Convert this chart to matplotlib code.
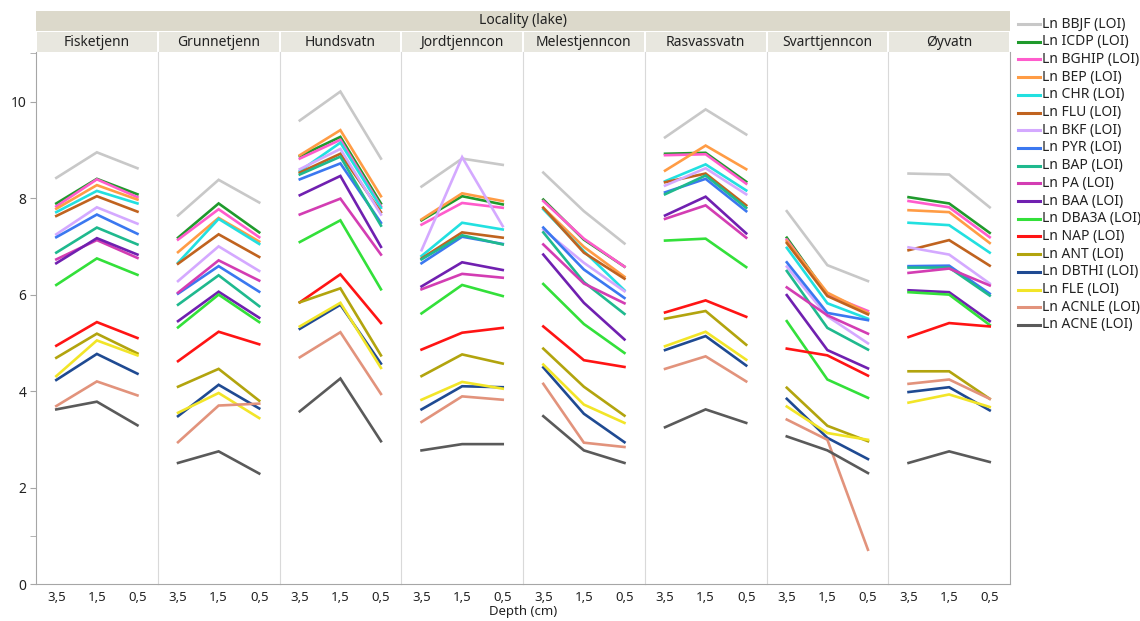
import matplotlib
matplotlib.use("Agg")
import matplotlib.pyplot as plt
from matplotlib.lines import Line2D
from matplotlib.patches import Rectangle

plt.rcParams['font.family'] = ['Noto Sans', 'DejaVu Sans']

lakes = ["Fisketjenn", "Grunnetjenn", "Hundsvatn", "Jordtjenncon",
         "Melestjenncon", "Rasvassvatn", "Svarttjenncon", "Øyvatn"]
depths = ["3,5", "1,5", "0,5"]

compounds = ["BBJF", "ICDP", "BGHIP", "BEP", "CHR", "FLU", "BKF", "PYR", "BAP",
             "PA", "BAA", "DBA3A", "NAP", "ANT", "DBTHI", "FLE", "ACNLE", "ACNE"]
colors = ["#c8c8c8", "#1f9a2c", "#ff5ccc", "#ff9c45", "#22e0e0", "#c0631f",
          "#d4a9ff", "#3b78f0", "#1fb98e", "#d33db3", "#7020b0", "#33e03a",
          "#ff1414", "#b2a40e", "#1f4a92", "#f2e528", "#e2937c", "#5a5a5a"]

# ln(LOI-normalised concentration), one row per compound, columns = depth 3.5, 1.5, 0.5 cm
fisketjenn = [
    [8.42, 8.95, 8.62], [7.89, 8.40, 8.08], [7.83, 8.39, 8.02], [7.78, 8.27, 7.97],
    [7.71, 8.15, 7.89], [7.63, 8.04, 7.72], [7.25, 7.81, 7.47], [7.19, 7.66, 7.26],
    [6.87, 7.39, 7.04], [6.73, 7.13, 6.76], [6.65, 7.17, 6.83], [6.20, 6.75, 6.41],
    [4.94, 5.43, 5.10], [4.69, 5.19, 4.78], [4.23, 4.77, 4.36], [4.31, 5.05, 4.74],
    [3.69, 4.20, 3.91], [3.62, 3.78, 3.29]]
grunnetjenn = [
    [7.64, 8.38, 7.91], [7.18, 7.89, 7.29], [7.14, 7.77, 7.19], [6.88, 7.59, 7.10],
    [6.66, 7.57, 7.05], [6.64, 7.25, 6.78], [6.28, 7.00, 6.49], [6.02, 6.59, 6.06],
    [5.79, 6.40, 5.76], [6.04, 6.71, 6.29], [5.45, 6.06, 5.52], [5.32, 6.00, 5.43],
    [4.62, 5.23, 4.97], [4.09, 4.46, 3.80], [3.48, 4.13, 3.64], [3.55, 3.96, 3.44],
    [2.94, 3.70, 3.74], [2.51, 2.75, 2.29]]
hundsvatn = [
    [9.61, 10.21, 8.82], [8.87, 9.27, 7.89], [8.82, 9.21, 7.83], [8.89, 9.41, 8.04],
    [8.56, 9.15, 7.80], [8.53, 8.92, 7.71], [8.60, 9.02, 7.66], [8.39, 8.72, 7.49],
    [8.49, 8.86, 7.43], [7.66, 7.99, 6.83], [8.06, 8.46, 6.99], [7.09, 7.54, 6.11],
    [5.84, 6.42, 5.41], [5.84, 6.13, 4.74], [5.29, 5.79, 4.57], [5.34, 5.83, 4.48],
    [4.70, 5.22, 3.94], [3.58, 4.26, 2.96]]
jordtjenncon = [
    [8.24, 8.82, 8.69], [7.54, 8.04, 7.87], [7.45, 7.90, 7.80], [7.56, 8.10, 7.94],
    [6.80, 7.49, 7.35], [6.75, 7.29, 7.18], [6.92, 8.85, 7.42], [6.65, 7.20, 7.05],
    [6.73, 7.23, 7.04], [6.11, 6.43, 6.35], [6.17, 6.67, 6.51], [5.61, 6.20, 5.97],
    [4.86, 5.21, 5.31], [4.31, 4.76, 4.57], [3.62, 4.10, 4.08], [3.82, 4.19, 4.05],
    [3.36, 3.89, 3.82], [2.77, 2.90, 2.90]]
melestjenncon = [
    [8.53, 7.73, 7.06], [7.97, 7.14, 6.58], [7.94, 7.16, 6.58], [7.80, 6.99, 6.37],
    [7.77, 6.90, 6.09], [7.80, 6.87, 6.33], [7.35, 6.66, 6.07], [7.39, 6.52, 5.93],
    [7.29, 6.26, 5.60], [7.04, 6.23, 5.82], [6.83, 5.83, 5.07], [6.22, 5.39, 4.79],
    [5.34, 4.64, 4.50], [4.88, 4.09, 3.49], [4.49, 3.53, 2.94], [4.55, 3.72, 3.34],
    [4.15, 2.93, 2.84], [3.48, 2.77, 2.51]]
rasvassvatn = [
    [9.26, 9.84, 9.32], [8.92, 8.94, 8.34], [8.89, 8.91, 8.30], [8.57, 9.09, 8.60],
    [8.35, 8.70, 8.16], [8.33, 8.51, 7.85], [8.26, 8.62, 8.08], [8.12, 8.40, 7.73],
    [8.08, 8.47, 7.80], [7.57, 7.85, 7.18], [7.64, 8.03, 7.27], [7.12, 7.16, 6.57],
    [5.63, 5.88, 5.54], [5.50, 5.66, 4.96], [4.85, 5.14, 4.53], [4.93, 5.23, 4.65],
    [4.46, 4.72, 4.20], [3.25, 3.62, 3.34]]
svarttjenncon = [
    [7.73, 6.61, 6.28], [7.18, 6.00, 5.61], [7.14, 6.00, 5.66], [7.11, 6.04, 5.62],
    [6.97, 5.82, 5.50], [7.07, 5.97, 5.59], [6.58, 5.55, 4.99], [6.67, 5.62, 5.47],
    [6.49, 5.31, 4.86], [6.15, 5.57, 5.19], [5.99, 4.85, 4.47], [5.45, 4.24, 3.86],
    [4.88, 4.74, 4.32], [4.07, 3.28, 2.96], [3.84, 3.03, 2.59], [3.68, 3.13, 2.99],
    [3.41, 2.99, 0.71], [3.06, 2.77, 2.30]]
oyvatn = [
    [8.51, 8.49, 7.81], [8.02, 7.89, 7.28], [7.94, 7.81, 7.19], [7.75, 7.71, 7.07],
    [7.49, 7.44, 6.87], [6.92, 7.13, 6.60], [6.98, 6.83, 6.23], [6.59, 6.60, 6.02],
    [6.56, 6.56, 5.98], [6.45, 6.54, 6.19], [6.09, 6.05, 5.45], [6.05, 6.00, 5.37],
    [5.12, 5.41, 5.34], [4.41, 4.41, 3.84], [3.98, 4.08, 3.60], [3.76, 3.93, 3.67],
    [4.15, 4.24, 3.84], [2.51, 2.75, 2.53]]

panels = [fisketjenn, grunnetjenn, hundsvatn, jordtjenncon,
          melestjenncon, rasvassvatn, svarttjenncon, oyvatn]

W, H = 1140, 621
fig = plt.figure(figsize=(W / 100, H / 100), dpi=100)

x0, x1 = 36, 1010
y_top, y_bot = 52, 584
pw = (x1 - x0) / len(lakes)

frame = "#a6a6a6"
divider = "#d9d9d9"

for i, (lake, rows) in enumerate(zip(lakes, panels)):
    ax = fig.add_axes([(x0 + i * pw) / W, 1 - y_bot / H, pw / W, (y_bot - y_top) / H])
    for vals, c in zip(rows, colors):
        ax.plot(range(len(depths)), vals, color=c, lw=1.9, solid_joinstyle='miter')
    ax.set_xlim(-0.5, 2.5)
    ax.set_ylim(0, 11.03)
    ax.set_xticks(range(len(depths)))
    ax.set_xticklabels(depths, fontsize=9.5, color="#222222")
    ax.tick_params(axis='x', length=0, pad=5)
    ax.spines['top'].set_visible(False)
    ax.spines['bottom'].set_color(frame)
    ax.spines['right'].set_visible(i == len(lakes) - 1)
    ax.spines['right'].set_color(frame)
    if i == 0:
        ax.spines['left'].set_color(frame)
        ax.set_yticks([0, 2, 4, 6, 8, 10])
        ax.set_yticks([1, 11], minor=True)
        ax.tick_params(axis='y', which='both', length=4, color=frame,
                       labelsize=10, labelcolor="#222222", pad=3)
    else:
        ax.spines['left'].set_color(divider)
        ax.set_yticks([])

    # panel strip
    fig.patches.append(Rectangle(((x0 + i * pw + 1) / W, 1 - 52 / H), (pw - 2) / W, 20 / H,
                                 transform=fig.transFigure, facecolor="#e8e7df",
                                 edgecolor="none"))
    fig.text((x0 + (i + 0.5) * pw) / W, 1 - 42 / H, lake, ha='center', va='center',
             fontsize=10, color="#222222")

# group header
fig.patches.append(Rectangle((x0 / W, 1 - 31 / H), (x1 - x0) / W, 20 / H,
                             transform=fig.transFigure, facecolor="#dcd9cb",
                             edgecolor="none"))
fig.text((x0 + x1) / 2 / W, 1 - 21 / H, "Locality (lake)", ha='center', va='center',
         fontsize=10, fontweight='bold', color="#222222")

fig.text((x0 + x1) / 2 / W, 1 - 612 / H, "Depth (cm)", ha='center', va='center',
         fontsize=9.5, color="#222222")

# legend
for k, (name, c) in enumerate(zip(compounds, colors)):
    yy = 1 - (24 + k * 17.7) / H
    fig.add_artist(Line2D([1018 / W, 1040 / W], [yy, yy], color=c, lw=2.2,
                          transform=fig.transFigure))
    fig.text(1042 / W, yy, f"Ln {name} (LOI)", ha='left', va='center',
             fontsize=10, color="#222222")

fig.savefig("out.png", dpi=100)
